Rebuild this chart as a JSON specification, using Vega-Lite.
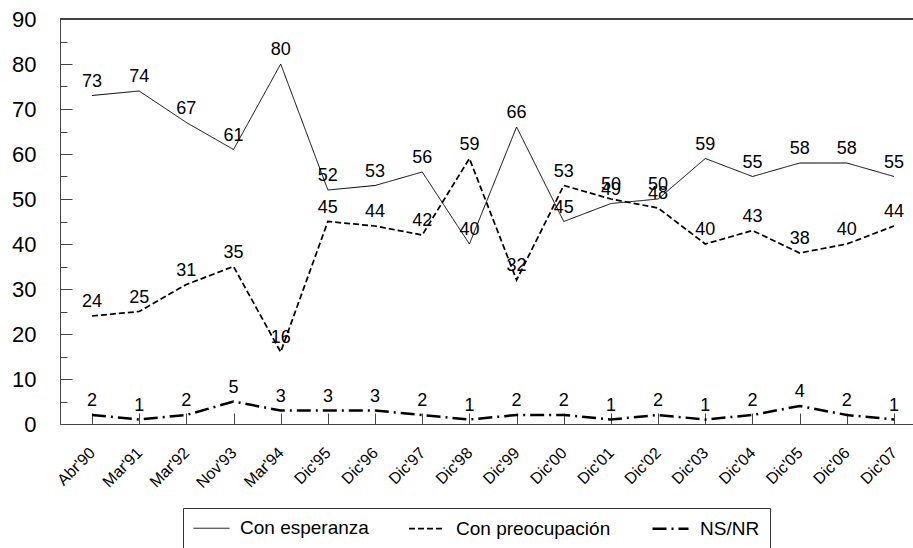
{
  "$schema": "https://vega.github.io/schema/vega-lite/v6.json",
  "width": 866,
  "height": 405,
  "autosize": {"type": "none"},
  "padding": {"left": 60, "top": 19, "right": 0, "bottom": 124},
  "config": {"font": "Liberation Sans", "view": {"stroke": null}},
  "data": {
    "values": [
      {"fecha": "Abr'90", "serie": "Con esperanza", "valor": 73},
      {"fecha": "Mar'91", "serie": "Con esperanza", "valor": 74},
      {"fecha": "Mar'92", "serie": "Con esperanza", "valor": 67},
      {"fecha": "Nov'93", "serie": "Con esperanza", "valor": 61},
      {"fecha": "Mar'94", "serie": "Con esperanza", "valor": 80},
      {"fecha": "Dic'95", "serie": "Con esperanza", "valor": 52},
      {"fecha": "Dic'96", "serie": "Con esperanza", "valor": 53},
      {"fecha": "Dic'97", "serie": "Con esperanza", "valor": 56},
      {"fecha": "Dic'98", "serie": "Con esperanza", "valor": 40},
      {"fecha": "Dic'99", "serie": "Con esperanza", "valor": 66},
      {"fecha": "Dic'00", "serie": "Con esperanza", "valor": 45},
      {"fecha": "Dic'01", "serie": "Con esperanza", "valor": 49},
      {"fecha": "Dic'02", "serie": "Con esperanza", "valor": 50},
      {"fecha": "Dic'03", "serie": "Con esperanza", "valor": 59},
      {"fecha": "Dic'04", "serie": "Con esperanza", "valor": 55},
      {"fecha": "Dic'05", "serie": "Con esperanza", "valor": 58},
      {"fecha": "Dic'06", "serie": "Con esperanza", "valor": 58},
      {"fecha": "Dic'07", "serie": "Con esperanza", "valor": 55},
      {"fecha": "Abr'90", "serie": "Con preocupación", "valor": 24},
      {"fecha": "Mar'91", "serie": "Con preocupación", "valor": 25},
      {"fecha": "Mar'92", "serie": "Con preocupación", "valor": 31},
      {"fecha": "Nov'93", "serie": "Con preocupación", "valor": 35},
      {"fecha": "Mar'94", "serie": "Con preocupación", "valor": 16},
      {"fecha": "Dic'95", "serie": "Con preocupación", "valor": 45},
      {"fecha": "Dic'96", "serie": "Con preocupación", "valor": 44},
      {"fecha": "Dic'97", "serie": "Con preocupación", "valor": 42},
      {"fecha": "Dic'98", "serie": "Con preocupación", "valor": 59},
      {"fecha": "Dic'99", "serie": "Con preocupación", "valor": 32},
      {"fecha": "Dic'00", "serie": "Con preocupación", "valor": 53},
      {"fecha": "Dic'01", "serie": "Con preocupación", "valor": 50},
      {"fecha": "Dic'02", "serie": "Con preocupación", "valor": 48},
      {"fecha": "Dic'03", "serie": "Con preocupación", "valor": 40},
      {"fecha": "Dic'04", "serie": "Con preocupación", "valor": 43},
      {"fecha": "Dic'05", "serie": "Con preocupación", "valor": 38},
      {"fecha": "Dic'06", "serie": "Con preocupación", "valor": 40},
      {"fecha": "Dic'07", "serie": "Con preocupación", "valor": 44},
      {"fecha": "Abr'90", "serie": "NS/NR", "valor": 2},
      {"fecha": "Mar'91", "serie": "NS/NR", "valor": 1},
      {"fecha": "Mar'92", "serie": "NS/NR", "valor": 2},
      {"fecha": "Nov'93", "serie": "NS/NR", "valor": 5},
      {"fecha": "Mar'94", "serie": "NS/NR", "valor": 3},
      {"fecha": "Dic'95", "serie": "NS/NR", "valor": 3},
      {"fecha": "Dic'96", "serie": "NS/NR", "valor": 3},
      {"fecha": "Dic'97", "serie": "NS/NR", "valor": 2},
      {"fecha": "Dic'98", "serie": "NS/NR", "valor": 1},
      {"fecha": "Dic'99", "serie": "NS/NR", "valor": 2},
      {"fecha": "Dic'00", "serie": "NS/NR", "valor": 2},
      {"fecha": "Dic'01", "serie": "NS/NR", "valor": 1},
      {"fecha": "Dic'02", "serie": "NS/NR", "valor": 2},
      {"fecha": "Dic'03", "serie": "NS/NR", "valor": 1},
      {"fecha": "Dic'04", "serie": "NS/NR", "valor": 2},
      {"fecha": "Dic'05", "serie": "NS/NR", "valor": 4},
      {"fecha": "Dic'06", "serie": "NS/NR", "valor": 2},
      {"fecha": "Dic'07", "serie": "NS/NR", "valor": 1}
    ]
  },
  "encoding": {
    "x": {
      "field": "fecha",
      "type": "ordinal",
      "sort": ["Abr'90", "Mar'91", "Mar'92", "Nov'93", "Mar'94", "Dic'95", "Dic'96", "Dic'97", "Dic'98", "Dic'99", "Dic'00", "Dic'01", "Dic'02", "Dic'03", "Dic'04", "Dic'05", "Dic'06", "Dic'07"],
      "scale": {"type": "point", "padding": 0.678},
      "axis": {
        "title": null,
        "labelAngle": -45,
        "labelAlign": "right",
        "labelBaseline": "middle",
        "labelFontSize": 16,
        "labelColor": "black",
        "tickSize": -11,
        "labelPadding": 37,
        "domainColor": "#444",
        "tickColor": "#444",
        "grid": false
      }
    },
    "y": {
      "field": "valor",
      "type": "quantitative",
      "scale": {"domain": [0, 90], "nice": false},
      "axis": {
        "title": null,
        "values": [0, 5, 10, 15, 20, 25, 30, 35, 40, 45, 50, 55, 60, 65, 70, 75, 80, 85, 90],
        "labelExpr": "datum.value % 10 === 0 ? datum.label : ''",
        "tickSize": {"condition": {"test": "datum.value % 10 === 0", "value": -12}, "value": -7},
        "labelPadding": 36,
        "labelFontSize": 22,
        "labelColor": "black",
        "domainColor": "#444",
        "tickColor": "#444",
        "grid": false
      }
    }
  },
  "layer": [
    {
      "mark": {"type": "rule", "color": "#444", "strokeWidth": 1},
      "encoding": {"x": null, "y": {"datum": 90, "type": "quantitative"}}
    },
    {
      "mark": {"type": "line", "color": "black"},
      "encoding": {
        "strokeDash": {
          "field": "serie",
          "type": "nominal",
          "scale": {"domain": ["Con esperanza", "Con preocupación", "NS/NR"], "range": [[1, 0], [6, 3], [14, 5, 2, 5]]},
          "legend": {
            "title": null,
            "orient": "none",
            "legendX": 123,
            "legendY": 489,
            "direction": "horizontal",
            "strokeColor": "#333",
            "padding": 10,
            "symbolType": "M-1,0H3",
            "symbolSize": 324,
            "symbolStrokeColor": "black",
            "labelFontSize": 19,
            "labelColor": "black",
            "labelOffset": 28,
            "columnPadding": 36
          }
        },
        "strokeWidth": {
          "field": "serie",
          "type": "nominal",
          "scale": {"domain": ["Con esperanza", "Con preocupación", "NS/NR"], "range": [1, 2.5, 2.5]}
        }
      }
    },
    {
      "mark": {"type": "text", "baseline": "bottom", "dy": -5, "fontSize": 18, "color": "black"},
      "encoding": {"text": {"field": "valor", "type": "quantitative"}}
    }
  ]
}
